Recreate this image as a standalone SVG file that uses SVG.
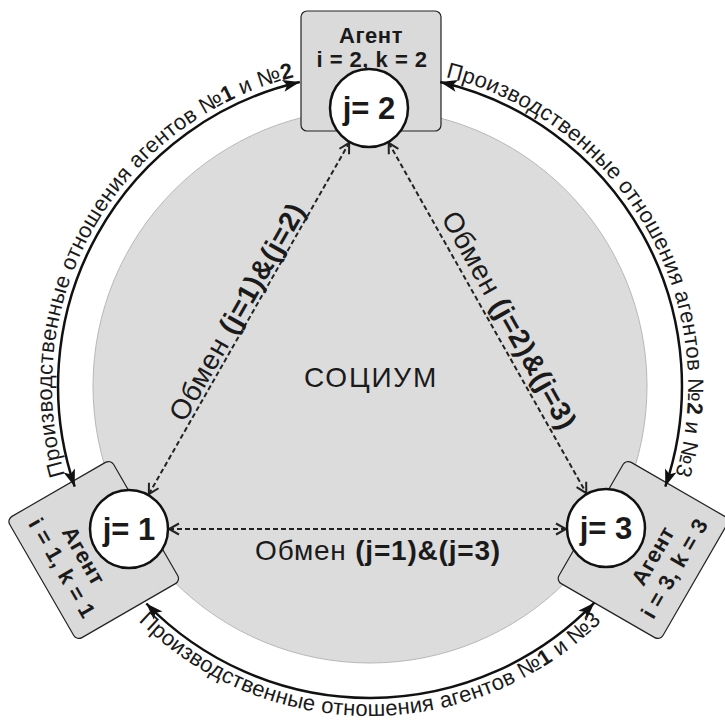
<svg xmlns="http://www.w3.org/2000/svg" xmlns:xlink="http://www.w3.org/1999/xlink" width="725" height="725" viewBox="0 0 725 725">
<style>
.t{font-family:"Liberation Sans",Arial,sans-serif;fill:#1a1a1a}
.b{font-weight:bold}
.box{fill:#dadada;stroke:#222;stroke-width:1.2}
.jc{fill:#fff;stroke:#111;stroke-width:2.5}
.arc{fill:none;stroke:#111;stroke-width:2.5}
.dash{fill:none;stroke:#222;stroke-width:2;stroke-dasharray:5 3}
.agent{font-size:22px;font-weight:bold;text-anchor:middle;letter-spacing:0.5px}
.jt{font-size:31px;font-weight:bold;text-anchor:middle}
.ex{font-size:28px;text-anchor:middle;letter-spacing:0.8px}
.pr{font-size:22px;letter-spacing:0.3px}
</style>
<defs>
<marker id="ah" markerUnits="userSpaceOnUse" markerWidth="18" markerHeight="14" refX="17" refY="6" orient="auto-start-reverse" overflow="visible">
<path d="M0,0 L17,6 L0,12 L4,6 z" fill="#111"/>
</marker>
<marker id="vh" markerUnits="userSpaceOnUse" markerWidth="14" markerHeight="14" refX="10" refY="5.5" orient="auto-start-reverse" overflow="visible">
<path d="M0,0 L10,5.5 L0,11" fill="none" stroke="#222" stroke-width="2"/>
</marker>
<path id="tpL" d="M94.6,545 A318,318 0 0 1 370,68"/>
<path id="tpR" d="M370,68 A318,318 0 0 1 645.4,545"/>
<path id="tpB" d="M84.2,551 A330,330 0 0 0 655.8,551"/>
</defs>

<g id="socium">
<circle cx="370" cy="386" r="277" fill="#dcdcdc" stroke="#b8b8b8" stroke-width="1"/>
<text class="t" x="371" y="387" font-size="28" letter-spacing="1.8" text-anchor="middle">СОЦИУМ</text>
</g>

<g id="agent2">
<rect class="box" x="301" y="11" width="140" height="120" rx="6"/>
<text class="t agent" x="371" y="43">Агент</text>
<text class="t agent" x="372" y="67">i = 2, k = 2</text>
</g>

<g id="agent1" transform="translate(93.7,550) rotate(60)">
<rect class="box" x="-70" y="-60" width="140" height="120" rx="6"/>
<text class="t agent" x="0" y="19">Агент</text>
<text class="t agent" x="0" y="44">i = 1, k = 1</text>
</g>

<g id="agent3" transform="translate(643,550) rotate(-60)">
<rect class="box" x="-70" y="-60" width="140" height="120" rx="6"/>
<text class="t agent" x="0" y="19">Агент</text>
<text class="t agent" x="0" y="44">i = 3, k = 3</text>
</g>

<g id="connectors">
<path class="arc" d="M74.7,486.6 A312,312 0 0 1 299.8,82" marker-start="url(#ah)" marker-end="url(#ah)"/>
<path class="arc" d="M440.2,82 A312,312 0 0 1 665.3,486.6" marker-start="url(#ah)" marker-end="url(#ah)"/>
<path class="arc" d="M146.3,603.5 A312,312 0 0 0 594.4,602.7" marker-start="url(#ah)" marker-end="url(#ah)"/>
<path class="dash" d="M148.8,494.2 L349.2,142.8" marker-start="url(#vh)" marker-end="url(#vh)"/>
<path class="dash" d="M388.7,142.8 L586.3,493.2" marker-start="url(#vh)" marker-end="url(#vh)"/>
<path class="dash" d="M169,529 L566,529" marker-start="url(#vh)" marker-end="url(#vh)"/>
<text class="t pr"><textPath xlink:href="#tpL" href="#tpL" startOffset="50%" text-anchor="middle">Производственные отношения агентов №<tspan class="b">1</tspan> и №<tspan class="b">2</tspan></textPath></text>
<text class="t pr"><textPath xlink:href="#tpR" href="#tpR" startOffset="50%" text-anchor="middle">Производственные отношения агентов №<tspan class="b">2</tspan> и №3</textPath></text>
<text class="t pr"><textPath xlink:href="#tpB" href="#tpB" startOffset="50%" text-anchor="middle">Производственные отношения агентов №<tspan class="b">1</tspan> и №3</textPath></text>
<text class="t ex" transform="translate(245.5,316.5) rotate(-60.3)">Обмен <tspan class="b">(j=1)&amp;(j=2)</tspan></text>
<text class="t ex" transform="translate(501,325) rotate(60.6)">Обмен <tspan class="b">(j=2)&amp;(j=3)</tspan></text>
<text class="t ex" x="378" y="560">Обмен <tspan class="b">(j=1)&amp;(j=3)</tspan></text>
</g>

<g id="j2">
<circle class="jc" cx="369" cy="108" r="39"/>
<text class="t jt" x="369" y="119">j= 2</text>
</g>
<g id="j1">
<circle class="jc" cx="129" cy="529" r="39"/>
<text class="t jt" x="129" y="540">j= 1</text>
</g>
<g id="j3">
<circle class="jc" cx="606" cy="528" r="39"/>
<text class="t jt" x="606" y="539">j= 3</text>
</g>
</svg>
